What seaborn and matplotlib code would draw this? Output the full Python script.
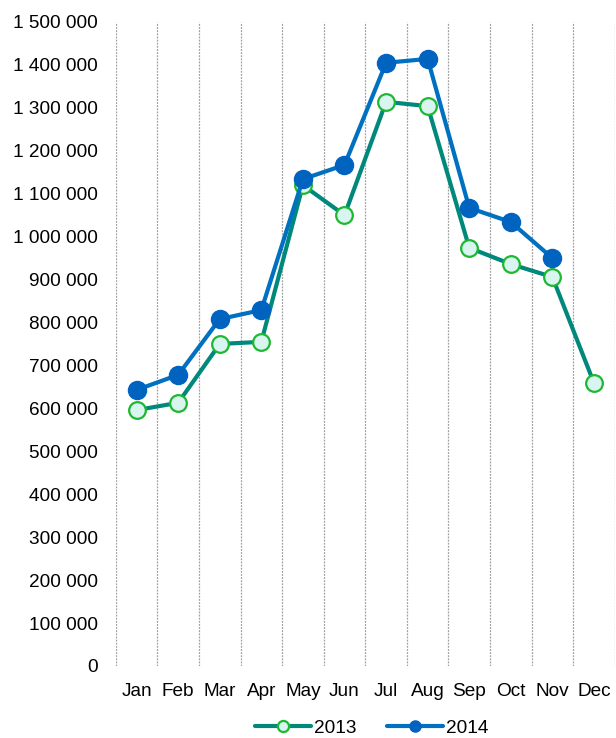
import pandas as pd
import matplotlib.pyplot as plt
import matplotlib.ticker as mticker
from matplotlib.lines import Line2D
import seaborn as sns

months = ["Jan", "Feb", "Mar", "Apr", "May", "Jun",
          "Jul", "Aug", "Sep", "Oct", "Nov", "Dec"]
sales_2013 = [596000, 613000, 750000, 755000, 1120000, 1050000,
              1314000, 1304000, 974000, 936000, 906000, 659000]
sales_2014 = [643000, 678000, 808000, 829000, 1134000, 1167000,
              1405000, 1414000, 1067000, 1034000, 950000, None]

df13 = pd.DataFrame({"month": range(12), "value": sales_2013})
df14 = pd.DataFrame({"month": range(12), "value": sales_2014}).dropna()

sns.set_style("white")
plt.rcParams["font.family"] = ["Liberation Sans", "DejaVu Sans"]
plt.rcParams["text.color"] = "black"
plt.rcParams["xtick.color"] = "black"
plt.rcParams["ytick.color"] = "black"

fig = plt.figure(figsize=(6.16, 7.38), dpi=100)
ax = fig.add_axes([0.188, 0.0976, 0.81, 0.8726])

style13 = dict(color="#00897B", linewidth=3, marker="o",
               markerfacecolor="#D8F5EF", markeredgecolor="#1DB832",
               markeredgewidth=1.6)
style14 = dict(color="#0070C0", linewidth=3, marker="o",
               markerfacecolor="#0063BF", markeredgecolor="#0063BF",
               markeredgewidth=1)

sns.lineplot(data=df13, x="month", y="value", ax=ax, markersize=12,
             legend=False, **style13)
sns.lineplot(data=df14, x="month", y="value", ax=ax, markersize=13,
             legend=False, **style14)

ax.set_xlim(-0.5, 11.5)
ax.set_ylim(0, 1500000)
ax.set_xticks(range(12))
ax.set_xticklabels(months)
ax.set_xticks([i - 0.5 for i in range(13)], minor=True)
ax.yaxis.set_major_locator(mticker.MultipleLocator(100000))
ax.yaxis.set_major_formatter(
    mticker.FuncFormatter(lambda v, p: f"{int(v):,}".replace(",", " ")))
ax.grid(False)
ax.grid(which="minor", axis="x", color="#A0A0A0", linestyle=(0, (1.5, 1)),
        linewidth=0.9)
ax.tick_params(axis="both", which="both", length=0, labelsize=13.7)
ax.tick_params(axis="x", pad=12)
ax.tick_params(axis="y", pad=13)
ax.set_xlabel("")
ax.set_ylabel("")
for s in ax.spines.values():
    s.set_visible(False)

handles = [Line2D([], [], markersize=8, **style13),
           Line2D([], [], markersize=8, **style14)]
fig.legend(handles, ["2013", "2014"], loc="lower center",
           bbox_to_anchor=(0.604, -0.022), ncol=2, frameon=False,
           fontsize=13.7, handlelength=2.9, columnspacing=1.6,
           handletextpad=0.2)

fig.savefig("out.png", dpi=100)
